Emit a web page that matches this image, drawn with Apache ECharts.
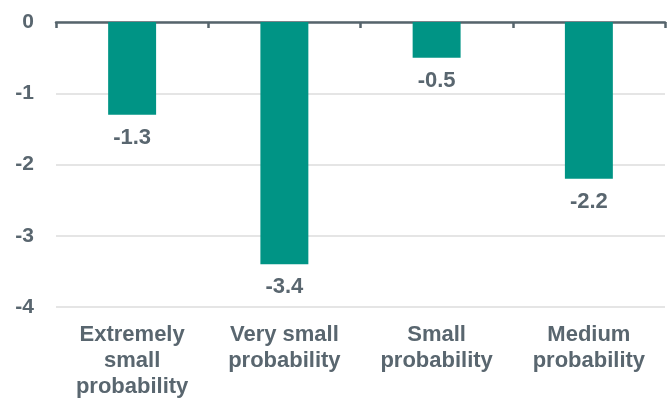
<!DOCTYPE html>
<html>
<head>
<meta charset="utf-8">
<script src="https://cdn.jsdelivr.net/npm/echarts@6/dist/echarts.min.js"></script>
<style>
html,body{margin:0;padding:0;background:#fff;}
#chart{width:672px;height:398px;}
</style>
</head>
<body>
<div id="chart"></div>
<script>
const categories = ['Extremely\nsmall\nprobability', 'Very small\nprobability', 'Small\nprobability', 'Medium\nprobability'];
const values = [-1.3, -3.4, -0.5, -2.2];
const yMin = -4, yMax = 0, yStep = 1;

const textColor = '#59666f';
const font = 'Liberation Sans, Arial, sans-serif';

const chart = echarts.init(document.getElementById('chart'));
chart.setOption({
  backgroundColor: '#ffffff',
  animation: false,
  grid: {left: 56, right: 7, top: 22, bottom: 91, containLabel: false, outerBoundsMode: 'none'},
  xAxis: [
    {
      type: 'category', data: categories, position: 'top',
      axisLine: {show: true, onZero: false, lineStyle: {color: '#56646c', width: 2.5}},
      axisTick: {show: true, inside: true, length: 6, lineStyle: {color: '#56646c', width: 2.5}},
      axisLabel: {show: false}
    },
    {
      type: 'category', data: categories, position: 'bottom',
      axisLine: {show: false, onZero: false}, axisTick: {show: false},
      axisLabel: {show: true, interval: 0, margin: 15, color: textColor, fontSize: 22, fontWeight: 'bold', fontFamily: font, lineHeight: 26, verticalAlign: 'top'}
    }
  ],
  yAxis: {
    type: 'value', min: yMin, max: yMax, interval: yStep,
    axisLine: {show: false}, axisTick: {show: false},
    splitLine: {show: true, lineStyle: {color: '#dcdcdc', width: 1.5}},
    axisLabel: {margin: 22, color: textColor, fontSize: 21, fontWeight: 'bold', fontFamily: font}
  },
  series: [{
    type: 'bar', data: values, xAxisIndex: 0, barWidth: '31.5%',
    itemStyle: {color: '#009485'},
    label: {show: true, position: 'bottom', distance: 12, color: textColor, fontSize: 22, fontWeight: 'bold', fontFamily: font}
  }]
});
</script>
</body>
</html>
